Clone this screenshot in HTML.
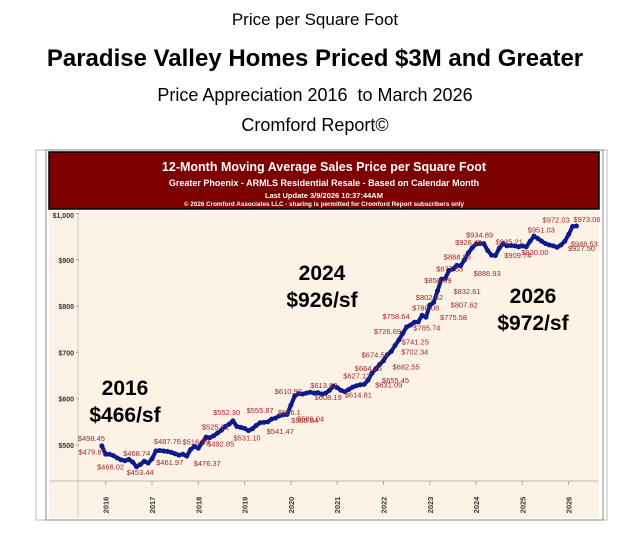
<!DOCTYPE html>
<html><head><meta charset="utf-8"><style>
body{margin:0;width:630px;height:540px;background:#fff;overflow:hidden;font-family:"Liberation Sans",sans-serif;position:relative}
.t{position:absolute;left:0;width:630px;text-align:center;color:#000}
</style></head><body>
<div class="t" style="top:10px;font-size:17px">Price per Square Foot</div>
<div class="t" style="top:45px;font-size:24px;font-weight:bold">Paradise Valley Homes Priced $3M and Greater</div>
<div class="t" style="top:85px;font-size:18px">Price Appreciation 2016&nbsp; to March 2026</div>
<div class="t" style="top:115px;font-size:18px">Cromford Report©</div>
<svg id="c" width="630" height="540" style="position:absolute;left:0;top:0" xmlns="http://www.w3.org/2000/svg"></svg>
<script>
const startYear=2015+11/12;
const values=[498,
480,480,477,472,468,466,469,463,453,458,465,461,
470,487,488,487,486,484,481,478,480,476,490,497,
493,505,517,516,520,526,532,540,545,552,540,538,
536,531,535,542,548,549,550,556,558,563,565,566,
586,606,611,610,612,614,612,613,610,612,618,627,
624,618,615,620,625,628,630,631,640,655,664,674,
682,695,702,715,727,741,755,759,765,766,780,776,
802,808,833,858,860,877,880,888,887,900,915,926,
934,935,935,920,910,909,925,935,930,931,930,928,
930,928,940,951,946,940,935,932,930,927,932,940,
955,972,973];
const yTicks=[500,600,700,800,900,1000];
const yTickLabels=["$500","$600","$700","$800","$900","$1,000"];
const xYears=[2016,2017,2018,2019,2020,2021,2022,2023,2024,2025,2026];
const labelIdx=[0,2,6,5,9,12,14,22,24,26,28,34,38,44,43,47,48,50,49,54,58,61,64,68,70,71,72,73,75,77,78,80,81,83,84,85,86,87,88,90,92,93,97,98,100,103,110,114,119,121,122,123];
const labelText=["$498.45","$479.67","$466.02","$468.74","$453.44","$461.97","$487.76","$476.37","$516.99","$492.85","$525.61","$552.30","$531.10","$555.87","$541.47","$565.84","$586.04","$610.92","$606.1","$613.62","$608.19","$627.13","$614.81","$631.09","$655.45","$664.25","$674.54","$682.55","$702.34","$726.69","$741.25","$758.64","$765.74","$780.08","$775.58","$802.62","$807.62","$832.61","$858.09","$877.83","$888.86","$886.93","$926.45","$934.89","$935.21","$909.74","$930.00","$951.03","$927.50","$946.53","$972.03","$973.06"];
const labelDx=[-24,-31,-28,2,-10,8,-2,7,-12,5,-8,-20,-15,-25,-1,8,10,-20,-13,0,-11,6,-4,11,10,-21,-18,9,10,-25,-1,-28,-1,-10,14,-14,17,16,-17,-13,-13,13,-21,-14,8,5,-5,-14,7,2,-30,-3];
const labelDy=[-5,0,9,-4,8,2,-7,10,-2,4,-8,-6,10,-6,12,8,7,-2,10,-4,7,-9,8,3,10,2,-7,9,3,-6,11,-6,8,-5,3,-5,5,3,4,1,-6,10,1,-6,-6,10,8,-9,6,12,-4,-4];

const X=yr=>105.7+(yr-2016)*46.3;
const Y=v=>445-(v-500)*0.463;
const ns="http://www.w3.org/2000/svg";
const svg=document.getElementById('c');
function mk(t,a){const e=document.createElementNS(ns,t);for(const k in a)e.setAttribute(k,a[k]);svg.appendChild(e);return e;}
let e=mk('rect',{x:36,y:150,width:571,height:370,fill:'none',stroke:'#bbb','stroke-width':1});

e=mk('rect',{x:46,y:150,width:557,height:370,fill:'#fff',stroke:'#888','stroke-width':1});

e=mk('rect',{x:49,y:152,width:550,height:57,fill:'#7c0000',stroke:'#000','stroke-width':1.5});

const hdr=[["12-Month Moving Average Sales Price per Square Foot",171,12.5],["Greater Phoenix - ARMLS Residential Resale - Based on Calendar Month",186,9],["Last Update 3/9/2026 10:37:44AM",198,7.5],["© 2026 Cromford Associates LLC - sharing is permitted for Cromford Report subscribers only",206,6.3]];
hdr.forEach((h,i)=>{const t=mk('text',{x:324,y:h[1],'text-anchor':'middle',fill:'#fff','font-size':h[2],'font-weight':'bold','font-family':'Liberation Sans,sans-serif'});t.textContent=h[0];
});
e=mk('rect',{x:49,y:211,width:550,height:307,fill:'#fcf3e6'});

mk('line',{x1:78,y1:213,x2:78,y2:518,stroke:'#ccc'});
mk('line',{x1:49,y1:481,x2:599,y2:481,stroke:'#bbb'});
yTicks.forEach((v,i)=>{const t=mk('text',{x:74,y:Math.max(Y(v),215)+3,'text-anchor':'end','font-size':7,fill:'#333','font-weight':'bold'});t.textContent=yTickLabels[i];

mk('line',{x1:76,y1:Y(v),x2:79,y2:Y(v),stroke:'#aaa'});});
xYears.forEach(yr=>{const x=X(yr);mk('line',{x1:x,y1:481,x2:x,y2:485,stroke:'#aaa'});
const t=mk('text',{x:0,y:0,transform:`translate(${x+3},505) rotate(-90)`,'font-size':7.5,fill:'#333','font-weight':'bold','text-anchor':'middle'});t.textContent=yr;
});
const pts=values.map((v,i)=>[X(startYear+i/12),Y(v)]);
e=mk('polyline',{points:pts.map(p=>p.join(',')).join(' '),fill:'none',stroke:'#0c1a8c','stroke-width':4,'stroke-linejoin':'round'});

pts.forEach(p=>{const c=mk('circle',{cx:p[0],cy:p[1],r:2.5,fill:'#0c1a8c'});
});
labelIdx.forEach((idx,i)=>{const p=pts[idx];const t=mk('text',{x:p[0]+labelDx[i],y:p[1]+labelDy[i],'font-size':7.5,fill:'#a3262b'});t.textContent=labelText[i];
});
const ann=[["2016","$466/sf",125,395],["2024","$926/sf",322,280],["2026","$972/sf",533,303]];
ann.forEach(a=>{[a[0],a[1]].forEach((s,j)=>{const t=mk('text',{x:a[2],y:a[3]+j*27,'text-anchor':'middle','font-size':21,'font-weight':'bold',fill:'#000'});t.textContent=s;
});});
</script>
</body></html>
